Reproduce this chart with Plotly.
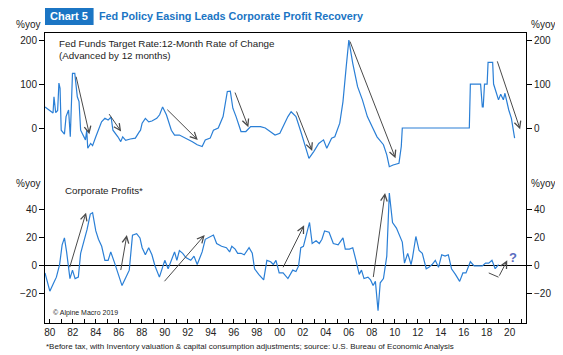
import plotly.graph_objects as go

# ---------------- data ----------------
FF_YEAR = [1979.58, 1979.75, 1980.0, 1980.28, 1980.36, 1980.51, 1980.68, 1980.79, 1980.89, 1980.99,
           1981.27, 1981.41, 1981.63, 1981.78, 1981.97, 1982.17, 1982.39, 1982.54, 1982.68, 1982.87,
           1983.1, 1983.21, 1983.3, 1983.55, 1983.72, 1984.0, 1984.23, 1984.5, 1984.79, 1985.07,
           1985.33, 1985.49, 1985.92, 1986.17, 1986.34, 1986.6, 1987.0, 1987.44, 1987.75, 1987.89,
           1988.03, 1988.31, 1988.6, 1988.88, 1989.3, 1989.55, 1989.81, 1990.14, 1990.57, 1990.85,
           1991.27, 1991.83, 1992.4, 1992.82, 1993.25, 1993.52, 1993.95, 1994.23, 1994.65, 1995.07,
           1995.44, 1995.7, 1995.92, 1996.2, 1996.63, 1997.05, 1997.47, 1998.32, 1998.74, 1999.16,
           1999.59, 2000.01, 2000.29, 2000.71, 2000.99, 2001.41, 2001.83, 2002.26, 2002.54, 2002.97,
           2003.39, 2003.81, 2004.09, 2004.51, 2004.79, 2005.22, 2005.5, 2005.78, 2006.01, 2006.35,
           2006.77, 2007.19, 2007.62, 2008.04, 2008.46, 2009.02, 2009.31, 2009.53, 2009.86, 2010.37,
           2010.57, 2010.66, 2016.49, 2016.58, 2017.47, 2017.62, 2017.7, 2017.81, 2018.04, 2018.12,
           2018.52, 2018.6, 2018.88, 2019.03, 2019.22, 2019.45, 2019.59, 2019.73, 2019.92, 2020.15,
           2020.43]
FF_VAL = [48, 45, 41, 34, 71, 35, 40, 102, 90, -5,
          -14, 26, 41, -20, 124, 124, 71, 60, -5, -14,
          -27, -5, -46, -35, -40, -20, -5, 14, 22, 18,
          25, -5, -20, -31, -20, -28, -25, -23, -10, -5,
          11, 22, 14, 16, 22, 30, 48, 30, -5, -16,
          -16, -23, -31, -38, -42, -27, -23, -5, 0, 26,
          83, 84, 45, 26, -8, -8, 3, 3, 0, -8,
          -16, -12, 3, 26, 37, 26, -8, -42, -69, -53,
          -35, -27, -46, -23, -20, 11, 60, 139, 200, 147,
          94, 64, 26, 3, -20, -38, -61, -88, -84, -80,
          -42, 0, 0, 100, 100, 48, 48, 100, 100, 149,
          149, 100, 79, 64, 77, 64, 79, 60, 41, 22,
          -23]

CP_YEAR = [1979.58, 1979.72, 1980.0, 1980.28, 1980.57, 1980.85, 1981.07, 1981.27, 1981.46, 1981.75,
           1981.97, 1982.2, 1982.48, 1982.68, 1982.96, 1983.24, 1983.52, 1983.72, 1984.0, 1984.23,
           1984.51, 1984.79, 1985.07, 1985.3, 1985.64, 1985.92, 1986.28, 1986.62, 1986.91, 1987.19,
           1987.55, 1987.84, 1988.03, 1988.31, 1988.6, 1988.88, 1989.15, 1989.53, 1989.72, 1990.0,
           1990.29, 1990.57, 1990.85, 1991.05, 1991.27, 1991.56, 1991.83, 1992.26, 1992.54, 1992.82,
           1993.25, 1993.52, 1993.95, 1994.23, 1994.51, 1994.94, 1995.36, 1995.64, 1995.83, 1996.12,
           1996.34, 1996.63, 1996.91, 1997.33, 1997.61, 1997.81, 1998.17, 1998.6, 1998.88, 1999.21,
           1999.44, 1999.67, 1999.95, 2000.29, 2000.71, 2001.13, 2001.41, 2001.64, 2001.83, 2002.06,
           2002.4, 2002.59, 2002.82, 2003.16, 2003.44, 2003.67, 2003.9, 2004.29, 2004.66, 2005.08,
           2005.5, 2005.7, 2006.06, 2006.35, 2006.63, 2006.91, 2007.11, 2007.33, 2007.67, 2007.9,
           2008.12, 2008.32, 2008.55, 2008.74, 2009.02, 2009.31, 2009.53, 2009.81, 2010.15, 2010.43,
           2010.66, 2010.85, 2011.13, 2011.42, 2011.55, 2011.84, 2012.12, 2012.4, 2012.74, 2012.97,
           2013.25, 2013.53, 2013.81, 2014.09, 2014.38, 2014.66, 2014.94, 2015.28, 2015.65, 2015.93,
           2016.2, 2016.58, 2016.91, 2017.19, 2017.62, 2017.9, 2018.18, 2018.46, 2018.74, 2019.03]
CP_VAL = [-5, -10, -18, -13, -8, 1, 15, 20, 10, -9,
          -3, -9, -8, 9, 17, 26, 37, 38, 25, 19,
          14, 4, 4, 10, 2, -5, -14, -8, -3, 22,
          23, 20, 13, 8, 13, 8, 0, -8, -3, 4,
          -2, 4, 10, 4, 11, 9, 6, 4, 7, 1,
          10, 19, 21, 22, 16, 14, 13, 10, 14, 12,
          9, 9, 8, 13, 9, -2, -6, -10, 4, 3,
          1, 4, -5, -5, -9, -3, -4, 0, 13, 14,
          25, 31, 16, 18, 16, 19, 25, 24, 16, 15,
          20, 12, 12, 13, 4, -6, -3, -9, -8, -10,
          -14, -11, -32, -12, -9, 7, 52, 31, 27, 22,
          17, 2, 9, 1, 6, 21, 11, 9, -2, -1,
          1, 4, -1, 8, 7, 8, -2, -6, -11, -5,
          -5, 3, 0, 0, 0, 2, 2, 4, -2, 1]

TICK_YEARS = list(range(1980, 2022))
TICK_TEXT = [("%02d" % (y % 100)) if y % 2 == 0 else "" for y in TICK_YEARS]

TOP_TICKS = [0, 100, 200]
BOT_TICKS = [-20, 0, 20, 40]

# arrows: (tail_x, tail_y, head_x, head_y)
TOP_ARROWS = [(1982.26, 120, 1983.44, -14), (1985.07, 35, 1986.2, -8), (1990.09, 45, 1992.87, -27),
              (1996.06, 84, 1997.27, 2), (2001.41, 41, 2002.82, -52), (2006.06, 200, 2010.07, -69),
              (2018.88, 155, 2020.91, -3)]
BOT_ARROWS = [(1981.69, -2, 1983.15, 38), (1986.15, -4, 1986.7, 22), (1989.86, -12, 1993.47, 22),
              (2000.23, -2, 2002.12, 29), (2008.12, -9, 2009.16, 52), (2019.03, -8, 2019.79, 4)]
V_SEG_X = [2018.18, 2019.03]
V_SEG_Y = [-5, -8]

# ---------------- figure ----------------
# the page body has an 8px margin, so the figure is drawn 8px smaller and
# all page-pixel positions below are shifted by that offset
OFF = 8
PAGE_W, PAGE_H = 563, 355
W, H = PAGE_W - OFF, PAGE_H - OFF
PL, PR, PT, PB = 35, 530, 33, 323          # plot area in page pixels
ML, MT = PL - OFF, PT - OFF
MR, MB = W - (PR - OFF), H - (PB - OFF)
PW, PH = PR - PL, PB - PT


def px(x):
    return (x - PL) / PW


def py(y):
    return 1 - (y - PT) / PH


SPLIT = py(172)
XR = [1979.58, 2021.42]
BLUE = "#2a7fd6"
ARROW = "#4a4a4a"
FONT = "Liberation Sans, Arial, sans-serif"

fig = go.Figure()
fig.add_trace(go.Scatter(x=FF_YEAR, y=FF_VAL, mode="lines", line=dict(color=BLUE, width=1.2),
                         xaxis="x", yaxis="y", showlegend=False, hoverinfo="skip"))
fig.add_trace(go.Scatter(x=CP_YEAR, y=CP_VAL, mode="lines", line=dict(color=BLUE, width=1.2),
                         xaxis="x2", yaxis="y2", showlegend=False, hoverinfo="skip"))
fig.add_trace(go.Scatter(x=V_SEG_X, y=V_SEG_Y, mode="lines", line=dict(color=ARROW, width=1),
                         xaxis="x2", yaxis="y2", showlegend=False, hoverinfo="skip"))

tickfont = dict(family=FONT, size=10, color="#222")
common_y = dict(showline=True, linecolor="black", linewidth=1, ticks="outside", ticklen=5,
                tickcolor="black", showgrid=False, tickfont=tickfont, fixedrange=True)

fig.update_layout(
    width=W, height=H, margin=dict(l=ML, r=MR, t=MT, b=MB),
    paper_bgcolor="white", plot_bgcolor="white", showlegend=False,
    xaxis=dict(domain=[0, 1], anchor="y", range=XR, showline=True, side="top", linecolor="black",
               linewidth=1, showticklabels=False, ticks="", showgrid=False, zeroline=False),
    yaxis=dict(domain=[SPLIT, 1], anchor="x", range=[-100, 216], tickvals=TOP_TICKS,
               zeroline=False, **common_y),
    yaxis3=dict(overlaying="y", side="right", anchor="x", range=[-100, 216], tickvals=TOP_TICKS,
                zeroline=False, **common_y),
    xaxis2=dict(domain=[0, 1], anchor="y2", range=XR, showline=True, linecolor="black", linewidth=1,
                tickvals=TICK_YEARS, ticktext=TICK_TEXT, ticks="inside", ticklen=4, tickcolor="black",
                showgrid=False, zeroline=False, tickfont=tickfont),
    yaxis2=dict(domain=[0, SPLIT], anchor="x2", range=[-40.7, 67], tickvals=BOT_TICKS,
                zeroline=True, zerolinecolor="black", zerolinewidth=1.2, **common_y),
    yaxis4=dict(overlaying="y2", side="right", anchor="x2", range=[-40.7, 67], tickvals=BOT_TICKS,
                zeroline=False, **common_y),
)
fig.add_trace(go.Scatter(x=[None], y=[None], xaxis="x", yaxis="y3", showlegend=False))
fig.add_trace(go.Scatter(x=[None], y=[None], xaxis="x2", yaxis="y4", showlegend=False))

ann = []
for (x0, y0, x1, y1) in TOP_ARROWS:
    ann.append(dict(x=x1, y=y1, ax=x0, ay=y0, xref="x", yref="y", axref="x", ayref="y",
                    showarrow=True, arrowhead=5, arrowsize=1.3, arrowwidth=1, arrowcolor=ARROW, text=""))
for (x0, y0, x1, y1) in BOT_ARROWS:
    ann.append(dict(x=x1, y=y1, ax=x0, ay=y0, xref="x2", yref="y2", axref="x2", ayref="y2",
                    showarrow=True, arrowhead=5, arrowsize=1.3, arrowwidth=1, arrowcolor=ARROW, text=""))

ann.append(dict(x=2020.3, y=6, xref="x2", yref="y2", text="<b>?</b>", showarrow=False,
                font=dict(family=FONT, size=13, color="#5a6cc0")))


def txt(text, x, y, size, xanchor="left", color="#222", bold=False, family=FONT):
    ann.append(dict(x=px(x), y=py(y), xref="paper", yref="paper", text=("<b>%s</b>" % text) if bold else text,
                    showarrow=False, xanchor=xanchor, yanchor="middle",
                    font=dict(family=family, size=size, color=color)))


txt("%yoy", 32, 24, 10, xanchor="right")
txt("%yoy", 533, 24, 10, xanchor="left")
txt("%yoy", 32, 183, 10, xanchor="right")
txt("%yoy", 533, 183, 10, xanchor="left")
txt("Fed Funds Target Rate:12-Month Rate of Change", 47, 44, 9.8)
txt("(Advanced by 12 months)", 47, 55, 9.8)
txt("Corporate Profits*", 54, 190, 9.8)
txt("© Alpine Macro 2019", 41, 313, 7)
txt("*Before tax, with Inventory valuation &amp; capital consumption adjustments; source: U.S. Bureau of Economic Analysis",
    34, 346, 8)

NARROW = "Liberation Sans Narrow, Arial Narrow, Liberation Sans, Arial"
fig.add_shape(type="rect", xref="paper", yref="paper", x0=px(35), x1=px(85), y0=py(25), y1=py(7),
              fillcolor="#1b75c4", line=dict(width=0), layer="above")
txt("Chart 5", 60, 16, 11, xanchor="center", color="white", bold=True, family=NARROW)
txt("Fed Policy Easing Leads Corporate Profit Recovery", 88, 16, 10.8, color="#1b75c4", bold=True, family=NARROW)

fig.update_layout(annotations=ann)
fig.write_html("out.html")
